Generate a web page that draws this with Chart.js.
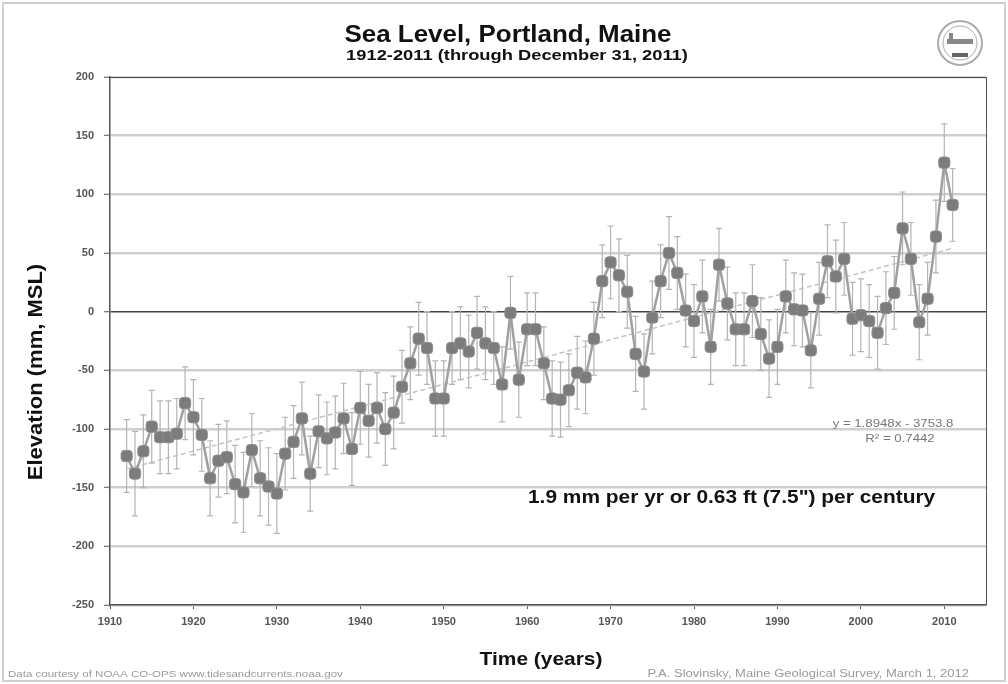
<!DOCTYPE html>
<html>
<head>
<meta charset="utf-8">
<script src="https://cdn.jsdelivr.net/npm/chart.js@4"></script>
<style>
html,body{margin:0;padding:0;background:#fff;}
canvas{display:block;}
</style>
</head>
<body>
<canvas id="c" width="1008" height="684"></canvas>
<script>
// ---- data ----
const years = [1912,1913,1914,1915,1916,1917,1918,1919,1920,1921,1922,1923,1924,1925,1926,1927,1928,1929,1930,1931,1932,1933,1934,1935,1936,1937,1938,1939,1940,1941,1942,1943,1944,1945,1946,1947,1948,1949,1950,1951,1952,1953,1954,1955,1956,1957,1958,1959,1960,1961,1962,1963,1964,1965,1966,1967,1968,1969,1970,1971,1972,1973,1974,1975,1976,1977,1978,1979,1980,1981,1982,1983,1984,1985,1986,1987,1988,1989,1990,1991,1992,1993,1994,1995,1996,1997,1998,1999,2000,2001,2002,2003,2004,2005,2006,2007,2008,2009,2010,2011];
const elevation = [-123,-138,-119,-98,-107,-107,-104,-78,-90,-105,-142,-127,-124,-147,-154,-118,-142,-149,-155,-121,-111,-91,-138,-102,-108,-103,-91,-117,-82,-93,-82,-100,-86,-64,-44,-23,-31,-74,-74,-31,-27,-34,-18,-27,-31,-62,-1,-58,-15,-15,-44,-74,-75,-67,-52,-56,-23,26,42,31,17,-36,-51,-5,26,50,33,1,-8,13,-30,40,7,-15,-15,9,-19,-40,-30,13,2,1,-33,11,43,30,45,-6,-3,-8,-18,3,16,71,45,-9,11,64,127,91];
const errorHalf = [31,36,31,31,31,31,30,31,32,31,32,31,31,33,34,31,32,33,34,31,31,31,32,31,31,31,30,31,31,31,30,31,31,31,31,31,31,32,32,31,31,31,31,31,31,32,31,32,31,31,31,32,32,31,31,31,31,31,31,31,31,32,32,31,31,31,31,31,31,31,32,31,31,31,31,31,31,33,32,31,31,31,32,31,31,31,31,31,31,31,31,31,31,31,31,32,31,31,33,31];
const trendYears = [1912, 2011];
const trendValues = [-134, 54];
const xTicks = [1910,1920,1930,1940,1950,1960,1970,1980,1990,2000,2010];
const yTicks = [200,150,100,50,0,-50,-100,-150,-200,-250];

const FONT = '"Liberation Sans", Arial, sans-serif';

function stretchText(ctx, text, x, y, font, sx, align) {
  ctx.save();
  ctx.font = font;
  ctx.textAlign = align || 'center';
  ctx.translate(x, y);
  ctx.scale(sx, 1);
  ctx.fillText(text, 0, 0);
  ctx.restore();
}

const errorBarPlugin = {
  id: 'errbars',
  beforeDatasetsDraw(chart) {
    const {ctx, scales:{x, y}} = chart;
    ctx.save();
    ctx.strokeStyle = '#b4b4b4';
    ctx.lineWidth = 1.2;
    years.forEach((yr, i) => {
      const px = x.getPixelForValue(yr);
      const top = y.getPixelForValue(elevation[i] + errorHalf[i]);
      const bot = y.getPixelForValue(elevation[i] - errorHalf[i]);
      ctx.beginPath();
      ctx.moveTo(px, top); ctx.lineTo(px, bot);
      ctx.moveTo(px-3, top); ctx.lineTo(px+3, top);
      ctx.moveTo(px-3, bot); ctx.lineTo(px+3, bot);
      ctx.stroke();
    });
    ctx.restore();
  }
};

const textPlugin = {
  id: 'texts',
  afterDraw(chart) {
    const ctx = chart.ctx;
    ctx.save();
    // outer frame
    ctx.strokeStyle = '#d0d0d0';
    ctx.lineWidth = 2;
    ctx.strokeRect(3, 3, 1002, 678);
    // plot border top/right
    const a = chart.chartArea;
    ctx.strokeStyle = '#555';
    ctx.lineWidth = 1;
    ctx.beginPath();
    ctx.moveTo(a.left, a.top+0.5); ctx.lineTo(a.right, a.top+0.5);
    ctx.moveTo(a.right+0.5, a.top); ctx.lineTo(a.right+0.5, a.bottom);
    ctx.stroke();

    ctx.fillStyle = '#111';
    ctx.textBaseline = 'middle';
    stretchText(ctx, 'Sea Level, Portland, Maine', 508, 35, 'bold 24px ' + FONT, 1.08);
    stretchText(ctx, '1912-2011 (through December 31, 2011)', 517, 56, 'bold 15px ' + FONT, 1.22);

    stretchText(ctx, 'Time (years)', 541, 660, 'bold 19px ' + FONT, 1.1);

    ctx.save();
    ctx.translate(36, 372);
    ctx.rotate(-Math.PI/2);
    stretchText(ctx, 'Elevation (mm, MSL)', 0, 0, 'bold 20px ' + FONT, 1.1);
    ctx.restore();

    stretchText(ctx, '1.9 mm per yr or 0.63 ft (7.5") per century', 528, 498, 'bold 19px ' + FONT, 1.1, 'left');

    ctx.fillStyle = '#777';
    stretchText(ctx, 'y = 1.8948x - 3753.8', 893, 424, '11px ' + FONT, 1.2);
    stretchText(ctx, 'R\u00B2 = 0.7442', 900, 439, '11px ' + FONT, 1.2);

    ctx.fillStyle = '#999';
    stretchText(ctx, 'Data courtesy of NOAA CO-OPS www.tidesandcurrents.noaa.gov', 8, 675, '9px ' + FONT, 1.28, 'left');
    stretchText(ctx, 'P.A. Slovinsky, Maine Geological Survey, March 1, 2012', 969, 674, '10px ' + FONT, 1.3, 'right');

    // logo seal
    ctx.strokeStyle = '#aaa';
    ctx.lineWidth = 2;
    ctx.beginPath(); ctx.arc(960, 43, 22, 0, Math.PI*2); ctx.stroke();
    ctx.lineWidth = 1;
    ctx.beginPath(); ctx.arc(960, 43, 17, 0, Math.PI*2); ctx.stroke();
    ctx.fillStyle = '#888';
    ctx.fillRect(947, 39, 26, 5);
    ctx.fillRect(949, 33, 4, 8);
    ctx.fillStyle = '#666';
    ctx.fillRect(952, 53, 16, 4);
    ctx.restore();
  }
};

new Chart(document.getElementById('c'), {
  type: 'line',
  data: {
    datasets: [
      {
        label: 'Annual mean sea level',
        data: years.map((yr, i) => ({x: yr, y: elevation[i]})),
        borderColor: '#a0a0a0',
        borderWidth: 2.5,
        backgroundColor: '#7c7c7c',
        pointStyle: 'rectRounded',
        pointRadius: 6.5,
        pointBorderColor: '#8e8e8e',
        pointBorderWidth: 1,
        pointBackgroundColor: '#7c7c7c',
        tension: 0,
        order: 1
      },
      {
        label: 'Linear trend',
        data: trendYears.map((yr, i) => ({x: yr, y: trendValues[i]})),
        borderColor: '#c4c4c4',
        borderWidth: 1.5,
        borderDash: [5, 3],
        pointRadius: 0,
        order: 2
      }
    ]
  },
  options: {
    responsive: false,
    animation: false,
    devicePixelRatio: 1,
    layout: { padding: { top: 77, right: 22, left: 0, bottom: 0 } },
    plugins: { legend: { display: false }, tooltip: { enabled: false }, title: { display: false } },
    scales: {
      x: {
        type: 'linear',
        min: 1910, max: 2015,
        afterFit(s) { s.height = 79; },
        afterBuildTicks(s) { s.ticks = xTicks.map(v => ({value: v})); },
        ticks: {
          includeBounds: false,
          color: '#555',
          font: { family: FONT, size: 11, weight: 'bold' },
          padding: 6,
          maxRotation: 0,
          callback: v => String(v)
        },
        grid: { drawOnChartArea: false, drawTicks: true, tickLength: 4, color: '#555' },
        border: { color: '#555', width: 1.5 }
      },
      y: {
        min: -250, max: 200,
        afterFit(s) { s.width = 110; },
        afterBuildTicks(s) { s.ticks = yTicks.map(v => ({value: v})); },
        ticks: {
          includeBounds: false,
          color: '#555',
          font: { family: FONT, size: 11, weight: 'bold' },
          padding: 10,
          callback: v => String(v)
        },
        grid: {
          color: ctx => ctx.tick && ctx.tick.value === 0 ? '#444' : '#cfcfcf',
          lineWidth: ctx => ctx.tick && ctx.tick.value === 0 ? 1.5 : 2.5,
          tickLength: 6,
          tickColor: '#555',
          tickWidth: 1
        },
        border: { color: '#555', width: 1.5 }
      }
    }
  },
  plugins: [errorBarPlugin, textPlugin]
});
</script>
</body>
</html>
